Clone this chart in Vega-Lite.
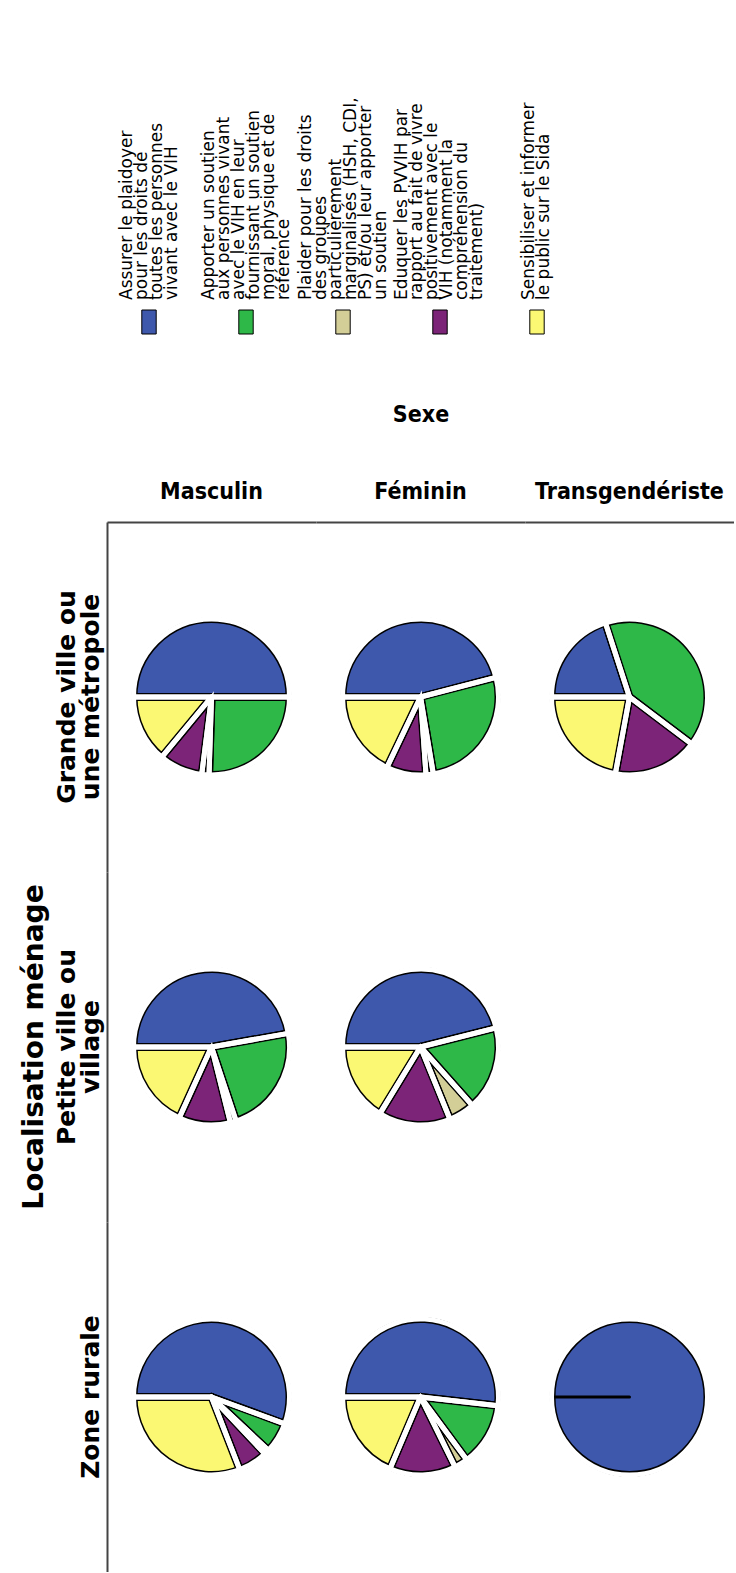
{
  "$schema": "https://vega.github.io/schema/vega-lite/v6.json",
  "padding": {"left": 20, "top": 10, "right": 0, "bottom": 0},
  "background": "white",
  "spacing": 68,
  "config": {"view": {"stroke": null}},
  "datasets": {
    "legend": [
      {"k": 1, "cat": "Assurer le plaidoyer pour les droits de toutes les personnes vivant avec le VIH", "label": "Assurer le plaidoyer\npour les droits de\ntoutes les personnes\nvivant avec le VIH"},
      {"k": 2, "cat": "Apporter un soutien aux personnes vivant avec le VIH en leur fournissant un soutien moral, physique et de référence", "label": "Apporter un soutien\naux personnes vivant\navec le VIH en leur\nfournissant un soutien\nmoral, physique et de\nréférence"},
      {"k": 3, "cat": "Plaider pour les droits des groupes particulièrement marginalisés (HSH, CDI, PS) et/ou leur apporter un soutien", "label": "Plaider pour les droits\ndes groupes\nparticulièrement\nmarginalisés (HSH, CDI,\nPS) et/ou leur apporter\nun soutien"},
      {"k": 4, "cat": "Eduquer les PVVIH par rapport au fait de vivre positivement avec le VIH (notamment la compréhension du traitement)", "label": "Eduquer les PVVIH par\nrapport au fait de vivre\npositivement avec le\nVIH (notamment la\ncompréhension du\ntraitement)"},
      {"k": 5, "cat": "Sensibiliser et informer le public sur le Sida", "label": "Sensibiliser et informer\nle public sur le Sida"}
    ],
    "pies": [
      {"loc": "Grande ville ou\nune métropole", "col": 1, "sexe": "Masculin", "k": 1, "cat": "Assurer le plaidoyer pour les droits de toutes les personnes vivant avec le VIH", "pct": 50.0},
      {"loc": "Grande ville ou\nune métropole", "col": 1, "sexe": "Masculin", "k": 2, "cat": "Apporter un soutien aux personnes vivant avec le VIH en leur fournissant un soutien moral, physique et de référence", "pct": 25.5},
      {"loc": "Grande ville ou\nune métropole", "col": 1, "sexe": "Masculin", "k": 3, "cat": "Plaider pour les droits des groupes particulièrement marginalisés (HSH, CDI, PS) et/ou leur apporter un soutien", "pct": 1.5},
      {"loc": "Grande ville ou\nune métropole", "col": 1, "sexe": "Masculin", "k": 4, "cat": "Eduquer les PVVIH par rapport au fait de vivre positivement avec le VIH (notamment la compréhension du traitement)", "pct": 9.0},
      {"loc": "Grande ville ou\nune métropole", "col": 1, "sexe": "Masculin", "k": 5, "cat": "Sensibiliser et informer le public sur le Sida", "pct": 14.0},
      {"loc": "Grande ville ou\nune métropole", "col": 2, "sexe": "Féminin", "k": 1, "cat": "Assurer le plaidoyer pour les droits de toutes les personnes vivant avec le VIH", "pct": 45.9},
      {"loc": "Grande ville ou\nune métropole", "col": 2, "sexe": "Féminin", "k": 2, "cat": "Apporter un soutien aux personnes vivant avec le VIH en leur fournissant un soutien moral, physique et de référence", "pct": 26.4},
      {"loc": "Grande ville ou\nune métropole", "col": 2, "sexe": "Féminin", "k": 3, "cat": "Plaider pour les droits des groupes particulièrement marginalisés (HSH, CDI, PS) et/ou leur apporter un soutien", "pct": 1.5},
      {"loc": "Grande ville ou\nune métropole", "col": 2, "sexe": "Féminin", "k": 4, "cat": "Eduquer les PVVIH par rapport au fait de vivre positivement avec le VIH (notamment la compréhension du traitement)", "pct": 8.2},
      {"loc": "Grande ville ou\nune métropole", "col": 2, "sexe": "Féminin", "k": 5, "cat": "Sensibiliser et informer le public sur le Sida", "pct": 17.9},
      {"loc": "Grande ville ou\nune métropole", "col": 3, "sexe": "Transgendériste", "k": 1, "cat": "Assurer le plaidoyer pour les droits de toutes les personnes vivant avec le VIH", "pct": 20.0},
      {"loc": "Grande ville ou\nune métropole", "col": 3, "sexe": "Transgendériste", "k": 2, "cat": "Apporter un soutien aux personnes vivant avec le VIH en leur fournissant un soutien moral, physique et de référence", "pct": 40.3},
      {"loc": "Grande ville ou\nune métropole", "col": 3, "sexe": "Transgendériste", "k": 4, "cat": "Eduquer les PVVIH par rapport au fait de vivre positivement avec le VIH (notamment la compréhension du traitement)", "pct": 17.6},
      {"loc": "Grande ville ou\nune métropole", "col": 3, "sexe": "Transgendériste", "k": 5, "cat": "Sensibiliser et informer le public sur le Sida", "pct": 22.1},
      {"loc": "Petite ville ou\nvillage", "col": 1, "sexe": "Masculin", "k": 1, "cat": "Assurer le plaidoyer pour les droits de toutes les personnes vivant avec le VIH", "pct": 47.2},
      {"loc": "Petite ville ou\nvillage", "col": 1, "sexe": "Masculin", "k": 2, "cat": "Apporter un soutien aux personnes vivant avec le VIH en leur fournissant un soutien moral, physique et de référence", "pct": 22.7},
      {"loc": "Petite ville ou\nvillage", "col": 1, "sexe": "Masculin", "k": 3, "cat": "Plaider pour les droits des groupes particulièrement marginalisés (HSH, CDI, PS) et/ou leur apporter un soutien", "pct": 1.2},
      {"loc": "Petite ville ou\nvillage", "col": 1, "sexe": "Masculin", "k": 4, "cat": "Eduquer les PVVIH par rapport au fait de vivre positivement avec le VIH (notamment la compréhension du traitement)", "pct": 10.7},
      {"loc": "Petite ville ou\nvillage", "col": 1, "sexe": "Masculin", "k": 5, "cat": "Sensibiliser et informer le public sur le Sida", "pct": 18.2},
      {"loc": "Petite ville ou\nvillage", "col": 2, "sexe": "Féminin", "k": 1, "cat": "Assurer le plaidoyer pour les droits de toutes les personnes vivant avec le VIH", "pct": 46.1},
      {"loc": "Petite ville ou\nvillage", "col": 2, "sexe": "Féminin", "k": 2, "cat": "Apporter un soutien aux personnes vivant avec le VIH en leur fournissant un soutien moral, physique et de référence", "pct": 17.4},
      {"loc": "Petite ville ou\nvillage", "col": 2, "sexe": "Féminin", "k": 3, "cat": "Plaider pour les droits des groupes particulièrement marginalisés (HSH, CDI, PS) et/ou leur apporter un soutien", "pct": 5.4},
      {"loc": "Petite ville ou\nvillage", "col": 2, "sexe": "Féminin", "k": 4, "cat": "Eduquer les PVVIH par rapport au fait de vivre positivement avec le VIH (notamment la compréhension du traitement)", "pct": 14.9},
      {"loc": "Petite ville ou\nvillage", "col": 2, "sexe": "Féminin", "k": 5, "cat": "Sensibiliser et informer le public sur le Sida", "pct": 16.3},
      {"loc": "Zone rurale", "col": 1, "sexe": "Masculin", "k": 1, "cat": "Assurer le plaidoyer pour les droits de toutes les personnes vivant avec le VIH", "pct": 55.6},
      {"loc": "Zone rurale", "col": 1, "sexe": "Masculin", "k": 2, "cat": "Apporter un soutien aux personnes vivant avec le VIH en leur fournissant un soutien moral, physique et de référence", "pct": 6.4},
      {"loc": "Zone rurale", "col": 1, "sexe": "Masculin", "k": 3, "cat": "Plaider pour les droits des groupes particulièrement marginalisés (HSH, CDI, PS) et/ou leur apporter un soutien", "pct": 1.0},
      {"loc": "Zone rurale", "col": 1, "sexe": "Masculin", "k": 4, "cat": "Eduquer les PVVIH par rapport au fait de vivre positivement avec le VIH (notamment la compréhension du traitement)", "pct": 6.1},
      {"loc": "Zone rurale", "col": 1, "sexe": "Masculin", "k": 5, "cat": "Sensibiliser et informer le public sur le Sida", "pct": 30.9},
      {"loc": "Zone rurale", "col": 2, "sexe": "Féminin", "k": 1, "cat": "Assurer le plaidoyer pour les droits de toutes les personnes vivant avec le VIH", "pct": 51.8},
      {"loc": "Zone rurale", "col": 2, "sexe": "Féminin", "k": 2, "cat": "Apporter un soutien aux personnes vivant avec le VIH en leur fournissant un soutien moral, physique et de référence", "pct": 13.1},
      {"loc": "Zone rurale", "col": 2, "sexe": "Féminin", "k": 3, "cat": "Plaider pour les droits des groupes particulièrement marginalisés (HSH, CDI, PS) et/ou leur apporter un soutien", "pct": 2.8},
      {"loc": "Zone rurale", "col": 2, "sexe": "Féminin", "k": 4, "cat": "Eduquer les PVVIH par rapport au fait de vivre positivement avec le VIH (notamment la compréhension du traitement)", "pct": 13.7},
      {"loc": "Zone rurale", "col": 2, "sexe": "Féminin", "k": 5, "cat": "Sensibiliser et informer le public sur le Sida", "pct": 18.6},
      {"loc": "Zone rurale", "col": 3, "sexe": "Transgendériste", "k": 1, "cat": "Assurer le plaidoyer pour les droits de toutes les personnes vivant avec le VIH", "pct": 100.0},
      {"loc": "Zone rurale", "col": 3, "sexe": "Transgendériste", "k": 5, "cat": "Sensibiliser et informer le public sur le Sida", "pct": 0}
    ]
  },
  "vconcat": [
    {
      "width": 472,
      "height": 312,
      "data": {"name": "legend"},
      "encoding": {
        "x": {"field": "cat", "type": "nominal", "sort": {"field": "k", "op": "min"}, "scale": {"type": "point", "padding": 0.433}, "axis": null},
        "y": {"datum": 0, "type": "quantitative", "scale": {"domain": [0, 1]}, "axis": null}
      },
      "layer": [
        {
          "mark": {"type": "point", "shape": "M-0.6,-1H0.6V1H-0.6Z", "size": 576, "filled": true, "stroke": "black", "strokeWidth": 1, "opacity": 1},
          "encoding": {
            "color": {"field": "cat", "type": "nominal", "legend": null,
              "scale": {"domain": [
                "Assurer le plaidoyer pour les droits de toutes les personnes vivant avec le VIH",
                "Apporter un soutien aux personnes vivant avec le VIH en leur fournissant un soutien moral, physique et de référence",
                "Plaider pour les droits des groupes particulièrement marginalisés (HSH, CDI, PS) et/ou leur apporter un soutien",
                "Eduquer les PVVIH par rapport au fait de vivre positivement avec le VIH (notamment la compréhension du traitement)",
                "Sensibiliser et informer le public sur le Sida"],
                "range": ["#3E58AC", "#2EB848", "#D3CE97", "#7C2478", "#FBF873"]}}
          }
        },
        {
          "transform": [{"filter": "datum.k == 1"}],
          "mark": {"type": "text", "angle": -90, "align": "left", "baseline": "middle", "dx": 22, "dy": -22.5, "lineBreak": "\n", "font": "DejaVu Sans", "fontSize": 17, "lineHeight": 15, "color": "black"},
          "encoding": {"text": {"field": "label"}}
        },
        {
          "transform": [{"filter": "datum.k >= 2 && datum.k <= 4"}],
          "mark": {"type": "text", "angle": -90, "align": "left", "baseline": "middle", "dx": 22, "dy": -37.5, "lineBreak": "\n", "font": "DejaVu Sans", "fontSize": 17, "lineHeight": 15, "color": "black"},
          "encoding": {"text": {"field": "label"}}
        },
        {
          "transform": [{"filter": "datum.k == 5"}],
          "mark": {"type": "text", "angle": -90, "align": "left", "baseline": "middle", "dx": 22, "dy": -7.5, "lineBreak": "\n", "font": "DejaVu Sans", "fontSize": 17, "lineHeight": 15, "color": "black"},
          "encoding": {"text": {"field": "label"}}
        }
      ]
    },
    {
      "data": {"name": "pies"},
      "spacing": {"row": 0, "column": 0},
      "facet": {
        "row": {"field": "loc", "type": "nominal", "title": "Localisation ménage",
          "header": {"labelFont": "DejaVu Sans", "labelFontWeight": "bold", "labelFontSize": 25, "labelLineHeight": 24, "labelColor": "black", "labelPadding": -9, "labelAngle": -90, "labelAlign": "center",
            "labelExpr": "split(datum.value, '\\n')",
            "titleFont": "DejaVu Sans", "titleFontWeight": "bold", "titleFontSize": 28, "titleColor": "black", "titlePadding": -5}},
        "column": {"field": "col", "type": "ordinal", "title": "Sexe",
          "header": {"labelFont": "DejaVu Sans Condensed, Liberation Sans, sans-serif", "labelFontWeight": "bold", "labelFontSize": 23, "labelColor": "black", "labelPadding": 18,
            "labelExpr": "['Masculin', 'Féminin', 'Transgendériste'][datum.value - 1]",
            "titleFont": "DejaVu Sans Condensed, Liberation Sans, sans-serif", "titleFontWeight": "bold", "titleFontSize": 23, "titleColor": "black", "titlePadding": 44}}
      },
      "spec": {
        "width": 209,
        "height": 350,
        "encoding": {
          "x": {"datum": 0.5, "type": "quantitative", "scale": {"domain": [0, 1]},
            "axis": {"orient": "top", "ticks": false, "labels": false, "grid": false, "title": null, "domainColor": "#444", "domainWidth": 2, "minExtent": 0, "maxExtent": 0}},
          "y": {"datum": 0.5, "type": "quantitative", "scale": {"domain": [0, 1]},
            "axis": {"orient": "left", "ticks": false, "labels": false, "grid": false, "title": null, "domainColor": "#444", "domainWidth": 2, "minExtent": 0, "maxExtent": 0}},
          "theta": {"field": "pct", "type": "quantitative", "stack": "normalize", "scale": {"range": [-1.5707963267948966, 4.71238898038469]}},
          "order": {"field": "k", "type": "quantitative"}
        },
        "layer": [
          {
            "mark": {"type": "arc", "radius": 78, "stroke": "black", "strokeJoin": "round"},
            "encoding": {
              "color": {"field": "cat", "type": "nominal", "legend": null,
                "scale": {"domain": [
                  "Assurer le plaidoyer pour les droits de toutes les personnes vivant avec le VIH",
                  "Apporter un soutien aux personnes vivant avec le VIH en leur fournissant un soutien moral, physique et de référence",
                  "Plaider pour les droits des groupes particulièrement marginalisés (HSH, CDI, PS) et/ou leur apporter un soutien",
                  "Eduquer les PVVIH par rapport au fait de vivre positivement avec le VIH (notamment la compréhension du traitement)",
                  "Sensibiliser et informer le public sur le Sida"],
                  "range": ["#3E58AC", "#2EB848", "#D3CE97", "#7C2478", "#FBF873"]}},
              "strokeWidth": {"condition": {"test": "datum.pct === 0", "value": 3}, "value": 8}
            }
          },
          {
            "mark": {"type": "arc", "radius": 78, "filled": false, "stroke": "white", "strokeWidth": 5, "strokeJoin": "round"},
            "encoding": {"strokeOpacity": {"condition": {"test": "datum.pct === 0", "value": 0}, "value": 1}}
          },
          {
            "mark": {"type": "arc", "radius": 81.5, "filled": false, "stroke": "white", "strokeWidth": 3.5},
            "encoding": {"strokeOpacity": {"condition": {"test": "datum.pct === 0", "value": 0}, "value": 1}}
          }
        ]
      }
    }
  ]
}
